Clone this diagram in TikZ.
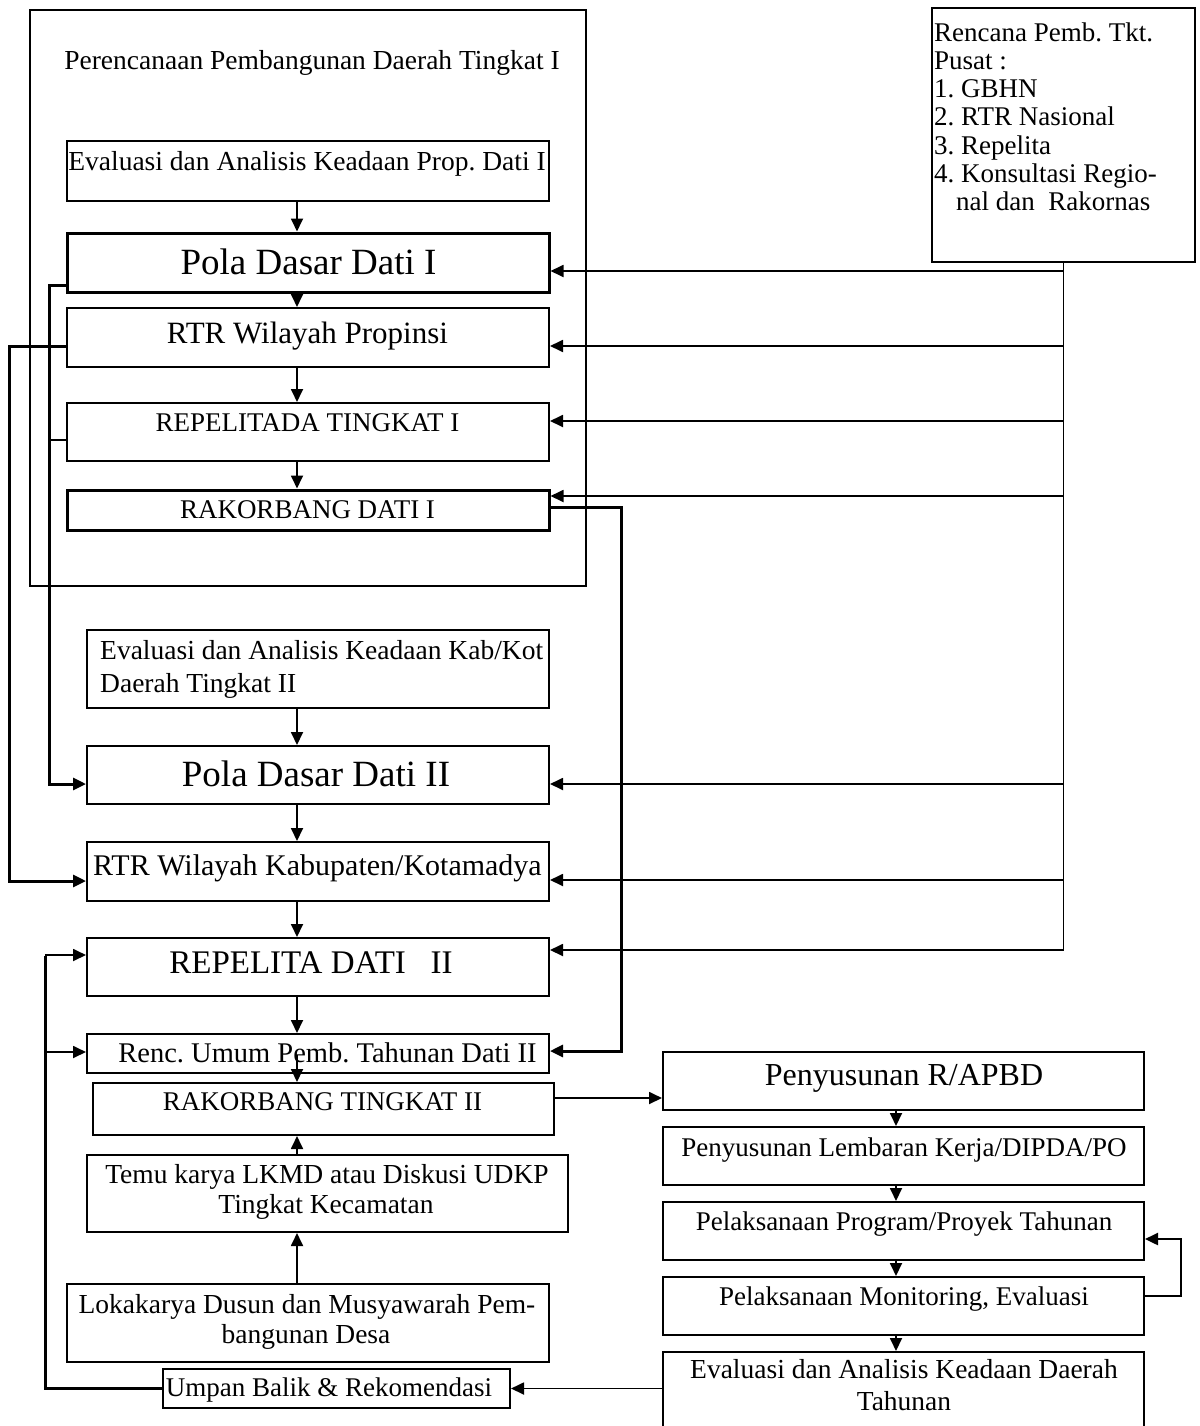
\documentclass[tikz,border=0pt]{standalone}
\usepackage{fontspec}
\setmainfont{Liberation Serif}
\usetikzlibrary{arrows.meta}
\newcommand\fsz[1]{\fontsize{#1}{#1}\selectfont}
\frenchspacing
\begin{document}
\begin{tikzpicture}[x=1pt,y=-1pt,
  box/.style={draw, line width=2pt, inner sep=0pt, minimum width=482pt, minimum height=58pt},
  thickbox/.style={box, line width=3pt},
  txt/.style={inner sep=0pt, anchor=base, font=\fsz{27.5}},
  ln/.style={line width=1.8pt},
  thickln/.style={line width=3pt},
  tip/.style={-{Triangle[length=13pt,width=12pt]}},
  con/.style={ln, tip},
  thickcon/.style={thickln, tip}
]
\useasboundingbox (0,0) rectangle (1199,1426);

% frames
\node[draw, line width=1.6pt, inner sep=0pt, minimum width=556pt, minimum height=576pt] (outer) at (308,298) {};
\node[txt] (title) at (312,70) {Perencanaan Pembangunan Daerah Tingkat I};

\node[draw, line width=2pt, inner sep=0pt, minimum width=263pt, minimum height=254pt] (RB) at (1063.5,135) {};
\foreach \t [count=\i] in {Rencana Pemb. Tkt., Pusat :, 1. GBHN, 2. RTR Nasional, 3. Repelita, 4. Konsultasi Regio-}
  \node[txt, anchor=base west, font=\fsz{27}] (rb\i) at (934,{42+28*(\i-1)}) {\t};
\node[txt, anchor=base west, font=\fsz{27}] (rb7) at (956,210) {nal dan \ Rakornas};

% upper column
\node[box, minimum height=60pt] (A) at (308,171) {};
\node[thickbox, minimum height=59pt] (B) at (308,262.5) {};
\node[box, minimum height=59pt] (C) at (308,337.5) {};
\node[box] (D) at (308,432) {};
\node[thickbox, minimum height=40pt] (E) at (308,510) {};

\node[txt] (tA) at (307,170) {Evaluasi dan Analisis Keadaan Prop. Dati I};
\node[txt, font=\fsz{37}] (tB) at (308.5,274) {Pola Dasar Dati I};
\node[txt, font=\fsz{31}] (tC) at (307.5,343) {RTR Wilayah Propinsi};
\node[txt, font=\fsz{27}] (tD) at (307.5,431) {REPELITADA TINGKAT I};
\node[txt, font=\fsz{27}] (tE) at (307.5,518) {RAKORBANG DATI I};

% lower left column
\node[box, minimum width=462pt, minimum height=78pt] (F) at (318,669) {};
\node[box, minimum width=462pt] (G) at (318,775) {};
\node[box, minimum width=462pt, minimum height=59pt] (H) at (318,871.5) {};
\node[box, minimum width=462pt] (I) at (318,967) {};
\node[box, minimum width=462pt, minimum height=39pt] (J) at (318,1053.5) {};
\node[box, minimum width=461pt, minimum height=52pt] (K) at (323.5,1109) {};
\node[box, minimum width=481pt, minimum height=77pt] (L) at (327.5,1193.5) {};
\node[box, minimum width=482pt, minimum height=78pt] (M) at (308,1323) {};
\node[box, minimum width=347pt, minimum height=39pt] (N) at (336.5,1388.5) {};

\node[txt, anchor=base west] (tF1) at (100,659) {Evaluasi dan Analisis Keadaan Kab/Kot};
\node[txt, anchor=base west] (tF2) at (100,692) {Daerah Tingkat II};
\node[txt, font=\fsz{37}] (tG) at (316,786) {Pola Dasar Dati II};
\node[txt, font=\fsz{30}] (tH) at (317.5,875) {RTR Wilayah Kabupaten/Kotamadya};
\node[txt, font=\fsz{33}] (tI) at (311,973) {REPELITA DATI \ \ II};
\node[txt, font=\fsz{28.5}] (tJ) at (327.5,1062) {Renc. Umum Pemb. Tahunan Dati II};
\node[txt, font=\fsz{27}] (tK) at (322.5,1110) {RAKORBANG TINGKAT II};
\node[txt] (tL1) at (327,1183) {Temu karya LKMD atau Diskusi UDKP};
\node[txt] (tL2) at (326,1213) {Tingkat Kecamatan};
\node[txt] (tM1) at (307,1313) {Lokakarya Dusun dan Musyawarah Pem-};
\node[txt] (tM2) at (306,1343) {bangunan Desa};
\node[txt, font=\fsz{27}] (tN) at (329,1396) {Umpan Balik \& Rekomendasi};

% right lower column
\node[box, minimum width=481pt] (P) at (903.5,1081) {};
\node[box, minimum width=481pt] (Q) at (903.5,1156) {};
\node[box, minimum width=481pt] (R) at (903.5,1231) {};
\node[box, minimum width=481pt] (S) at (903.5,1306) {};
\node[box, minimum width=481pt, minimum height=88pt] (T) at (903.5,1396) {};

\node[txt, font=\fsz{32}] (tP) at (904,1085) {Penyusunan R/APBD};
\node[txt, font=\fsz{27}] (tQ) at (904,1156) {Penyusunan Lembaran Kerja/DIPDA/PO};
\node[txt, font=\fsz{27}] (tR) at (904,1230) {Pelaksanaan Program/Proyek Tahunan};
\node[txt, font=\fsz{27}] (tS) at (904,1305) {Pelaksanaan Monitoring, Evaluasi};
\node[txt] (tT1) at (904,1378) {Evaluasi dan Analisis Keadaan Daerah};
\node[txt] (tT2) at (904,1410) {Tahunan};

% helper coordinates
\coordinate (ax) at (297,0);
\coordinate (bx) at (896,0);
\coordinate (busL) at (49,0);
\coordinate (busLL) at (9,0);
\coordinate (busM) at (621,0);
\coordinate (busF) at (45,0);
\coordinate (busR) at (1181,0);

% down arrows, left column
\draw[con] (A.south -| ax) -- (B.north -| ax);
\draw[con] (B.south -| ax) -- (C.north -| ax);
\draw[con] (C.south -| ax) -- (D.north -| ax);
\draw[con] (D.south -| ax) -- (E.north -| ax);
\draw[con] (F.south -| ax) -- (G.north -| ax);
\draw[con] (G.south -| ax) -- (H.north -| ax);
\draw[con] (H.south -| ax) -- (I.north -| ax);
\draw[con] (I.south -| ax) -- (J.north -| ax);
\coordinate (jmid) at ([yshift=-1.5pt]J.center);
\draw[con] (jmid -| ax) -- (K.north -| ax);
\draw[con] (L.north -| ax) -- (K.south -| ax);
\draw[con] (M.north -| ax) -- (L.south -| ax);

% down arrows, right column
\draw[con] (P.south -| bx) -- (Q.north -| bx);
\draw[con] (Q.south -| bx) -- (R.north -| bx);
\draw[con] (R.south -| bx) -- (S.north -| bx);
\draw[con] (S.south -| bx) -- (T.north -| bx);

% bus from central plan
\coordinate (bT) at ([yshift=-8.5pt]B.east);
\coordinate (cT) at ([yshift=-8.5pt]C.east);
\coordinate (dT) at ([yshift=11pt]D.east);
\coordinate (eT) at ([yshift=14pt]E.east);
\coordinate (gT) at ([yshift=-9pt]G.east);
\coordinate (hT) at ([yshift=-8.5pt]H.east);
\coordinate (iT) at ([yshift=17pt]I.east);
\draw[ln] (RB.south) -- (RB.south |- iT);
\foreach \c in {bT,cT,dT,eT,gT,hT,iT}
  \draw[con] (RB.south |- \c) -- (\c);

% left buses
\coordinate (bL) at ([yshift=-22.5pt]B.west);
\coordinate (dL) at ([yshift=-8pt]D.west);
\coordinate (gL) at ([yshift=-9pt]G.west);
\draw[thickcon] (bL) -- (bL -| busL) -- (gL -| busL) -- (gL);
\draw[ln] (dL) -- (dL -| busL);

\coordinate (cL) at ([yshift=-8.5pt]C.west);
\coordinate (hL) at ([yshift=-9.5pt]H.west);
\draw[thickcon] (cL) -- (cL -| busLL) -- (hL -| busLL) -- (hL);

% RAKORBANG Dati I to Renc. Umum
\coordinate (eR) at ([yshift=3pt]E.east);
\coordinate (jR) at ([yshift=2.5pt]J.east);
\draw[thickcon] (eR) -- (eR -| busM) -- (jR -| busM) -- (jR);

% feedback
\coordinate (iL) at ([yshift=12pt]I.west);
\coordinate (jL) at ([yshift=1.5pt]J.west);
\draw[thickln] (N.west) -- (N.west -| busF) -- ([yshift=-1pt]iL -| busF);
\draw[con] (iL -| busF) -- (iL);
\draw[con] (jL -| busF) -- (jL);

% RAKORBANG II to R/APBD
\coordinate (kR) at ([yshift=11pt]K.east);
\draw[con] (kR) -- (kR -| P.west);

% evaluation to feedback
\draw[con] (T.west |- N.east) -- (N.east);

% monitoring loop
\coordinate (sR) at ([yshift=10pt]S.east);
\coordinate (rR) at ([yshift=-8pt]R.east);
\draw[line width=2.4pt, tip] (sR) -- (sR -| busR) -- (rR -| busR) -- (rR);
\end{tikzpicture}
\end{document}
